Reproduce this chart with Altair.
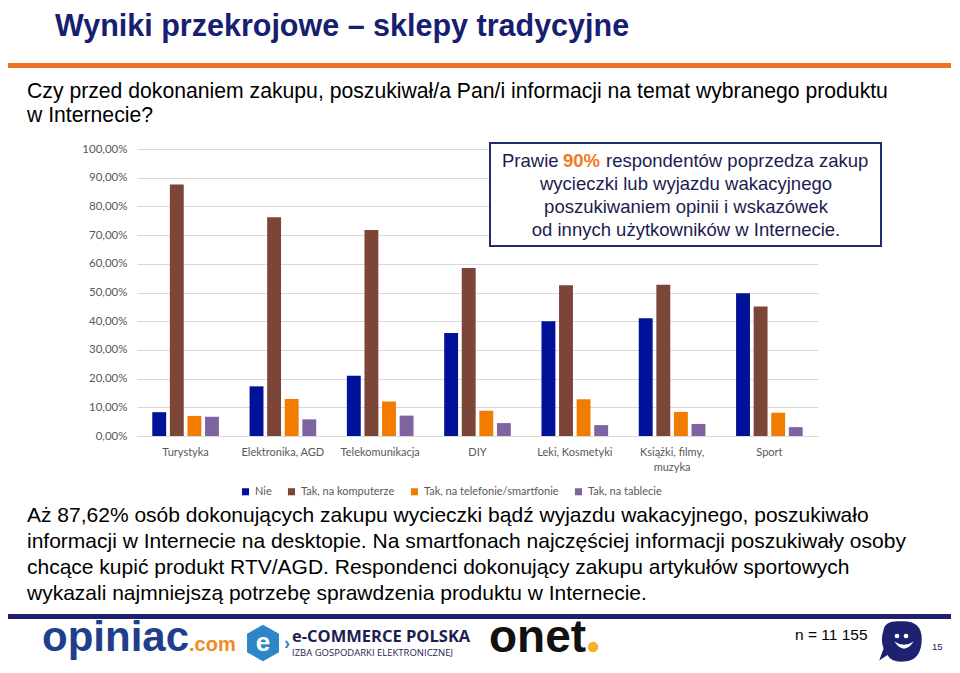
import altair as alt
import pandas as pd

# ---------------- data ----------------
categories = ["Turystyka", "Elektronika, AGD", "Telekomunikacja", "DIY",
              "Leki, Kosmetyki", "Książki, filmy, muzyka", "Sport"]
series = ["Nie", "Tak, na komputerze", "Tak, na telefonie/smartfonie", "Tak, na tablecie"]
nie = [8.3, 17.3, 21.0, 35.9, 40.0, 41.0, 49.7]
komputer = [87.62, 76.2, 71.8, 58.5, 52.5, 52.7, 45.1]
telefon = [7.0, 12.9, 12.0, 8.8, 12.8, 8.4, 8.1]
tablet = [6.7, 5.8, 7.1, 4.5, 3.8, 4.2, 3.1]
colors = ["#00129A", "#7B4537", "#F27C00", "#8064A2"]
y_ticks = [0, 10, 20, 30, 40, 50, 60, 70, 80, 90, 100]

title_text = "Wyniki przekrojowe – sklepy tradycyjne"
question_lines = ["Czy przed dokonaniem zakupu, poszukiwał/a Pan/i informacji na temat wybranego produktu",
                  "w Internecie?"]
box_lines = ["wycieczki lub wyjazdu wakacyjnego",
             "poszukiwaniem opinii i wskazówek",
             "od innych użytkowników w Internecie."]
bottom_lines = ["Aż 87,62% osób dokonujących zakupu wycieczki bądź wyjazdu wakacyjnego, poszukiwało",
                "informacji w Internecie na desktopie. Na smartfonach najczęściej informacji poszukiwały osoby",
                "chcące kupić produkt RTV/AGD. Respondenci dokonujący zakupu artykułów sportowych",
                "wykazali najmniejszą potrzebę sprawdzenia produktu w Internecie."]

rows = []
for vals, s in zip([nie, komputer, telefon, tablet], series):
    for c, v in zip(categories, vals):
        rows.append({"kategoria": c, "seria": s, "wartosc": v})
df = pd.DataFrame(rows)

W, H = 681, 287
ARIAL = "Liberation Sans"
CAL = "Lato"
GRAY = "#595959"

bars = alt.Chart(df).mark_bar().encode(
    x=alt.X("kategoria:N", sort=categories,
            scale=alt.Scale(paddingInner=0.315, paddingOuter=0.157),
            axis=alt.Axis(title=None, labelAngle=0, ticks=False, domain=True,
                          domainColor="#D9D9D9", labelFont=CAL, labelFontSize=11,
                          labelColor=GRAY, labelPadding=10, labelBaseline="top",
                          labelLineHeight=15,
                          labelExpr="datum.value == 'Książki, filmy, muzyka' ? ['Książki, filmy,', 'muzyka'] : datum.label")),
    xOffset=alt.XOffset("seria:N", sort=series,
                        scale=alt.Scale(paddingInner=0.21, paddingOuter=0)),
    y=alt.Y("wartosc:Q", scale=alt.Scale(domain=[0, 100], nice=False),
            axis=alt.Axis(title=None, values=y_ticks, domain=False, ticks=False,
                          gridColor="#D9D9D9", gridWidth=1, labelFont=CAL,
                          labelFontSize=11.5, labelColor=GRAY, labelPadding=10,
                          labelExpr="replace(format(datum.value, '.2f'), '.', ',') + '%'")),
    color=alt.Color("seria:N", sort=series,
                    scale=alt.Scale(domain=series, range=colors),
                    legend=alt.Legend(title=None, orient="none", legendX=103, legendY=337,
                                      direction="horizontal", symbolType="square",
                                      symbolSize=50, symbolStrokeWidth=0,
                                      labelFont=CAL, labelFontSize=11, labelColor=GRAY,
                                      columnPadding=14, labelOffset=4)),
)

one = alt.Data(values=[{"a": 1}])


def txt(s, x, y, size, color="#000000", weight="normal", align="left",
        font=ARIAL, baseline="alphabetic"):
    return alt.Chart(one).mark_text(
        text=s, fontSize=size, color=color, fontWeight=weight, align=align,
        font=font, baseline=baseline, clip=False
    ).encode(x=alt.value(x), y=alt.value(y))


def px(xp):  # page x -> plot x
    return xp - 137


def py(yp):  # page y -> plot y
    return yp - 149


layers = [bars]

# title + orange rule
layers.append(txt(title_text, px(55), py(35.5), 30.5, "#172070", "bold"))
layers.append(alt.Chart(one).mark_rule(color="#F07025", strokeWidth=5).encode(
    x=alt.value(px(8)), x2=alt.value(px(952)), y=alt.value(py(65.5))))
# question
layers.append(txt(question_lines[0], px(27), py(98), 21.2))
layers.append(txt(question_lines[1], px(27), py(122), 21.2))

# annotation box
layers.append(alt.Chart(one).mark_rect(fill="white", stroke="#1F2D6E", strokeWidth=2).encode(
    x=alt.value(px(490)), x2=alt.value(px(881)), y=alt.value(py(143)), y2=alt.value(py(246))))
BOX = "#1C1C50"
layers.append(txt("Prawie", px(502), py(167), 18.5, BOX))
layers.append(txt("90%", px(563), py(167), 18.5, "#F07A22", "bold"))
layers.append(txt("respondentów poprzedza zakup", px(606), py(167), 18.5, BOX))
for i, line in enumerate(box_lines):
    layers.append(txt(line, px(686), py(190 + 23 * i), 18.5, BOX, align="center"))

# bottom text
for i, line in enumerate(bottom_lines):
    layers.append(txt(line, px(27), py(522 + 26 * i), 21))

# navy rule
layers.append(alt.Chart(one).mark_rule(color="#1F1F6E", strokeWidth=5).encode(
    x=alt.value(px(8)), x2=alt.value(px(952)), y=alt.value(py(616.5))))

# logos (approximations)
layers.append(txt("opiniac", px(42), py(651), 42, "#1F3E8C", "bold"))
layers.append(txt(".com", px(189), py(651), 20, "#F08A24", "bold"))
hexagon = "M 0 -1 L 0.87 -0.5 L 0.87 0.5 L 0 1 L -0.87 0.5 L -0.87 -0.5 Z"
layers.append(alt.Chart(one).mark_point(shape=hexagon, filled=True, fill="#2E86C9",
                                        opacity=1, size=1350, strokeWidth=0).encode(
    x=alt.value(px(263)), y=alt.value(py(643))))
layers.append(txt("e", px(263), py(651), 26, "white", "bold", align="center"))
layers.append(txt("›", px(287), py(649), 18, "#2E86C9", "bold", align="center"))
layers.append(txt("e-COMMERCE POLSKA", px(292), py(642), 16.5, "#1E1E50", "bold", font="Open Sans"))
layers.append(txt("IZBA GOSPODARKI ELEKTRONICZNEJ", px(292), py(656), 9.5, "#1E1E50", font="Open Sans"))
layers.append(txt("onet", px(489), py(652), 46, "#111111", "bold"))
layers.append(alt.Chart(one).mark_point(shape="circle", filled=True, fill="#F6B22A",
                                        opacity=1, size=110, strokeWidth=0).encode(
    x=alt.value(px(593)), y=alt.value(py(647))))
layers.append(txt("n = 11 155", px(795), py(640), 15.5))
bubble = ("M -0.8 -0.55 Q -0.75 -1 0 -0.95 Q 0.95 -1 0.95 -0.15 Q 0.95 0.85 0.15 0.9 "
          "Q -0.45 0.95 -0.62 0.6 L -1 0.85 L -0.8 0.3 Q -0.95 -0.1 -0.8 -0.55 Z")
layers.append(alt.Chart(one).mark_point(shape=bubble, filled=True, fill="#1E2070",
                                        opacity=1, size=1900, strokeWidth=0).encode(
    x=alt.value(px(901)), y=alt.value(py(642))))
layers.append(alt.Chart(one).mark_point(shape="circle", filled=True, fill="white",
                                        opacity=1, size=22, strokeWidth=0).encode(
    x=alt.value(px(897)), y=alt.value(py(636))))
layers.append(alt.Chart(one).mark_point(shape="circle", filled=True, fill="white",
                                        opacity=1, size=22, strokeWidth=0).encode(
    x=alt.value(px(906)), y=alt.value(py(636))))
smile = "M -1 -0.35 Q 0 1.1 1 -0.35 Q 0 0.3 -1 -0.35 Z"
layers.append(alt.Chart(one).mark_point(shape=smile, filled=True, fill="white",
                                        opacity=1, size=380, strokeWidth=0).encode(
    x=alt.value(px(904)), y=alt.value(py(645))))
layers.append(txt("15", px(932), py(650), 9.5, "#1E2070"))

chart = alt.layer(*layers).properties(
    width=W, height=H,
    autosize=alt.AutoSizeParams(type="none"),
    padding={"left": 129, "top": 141, "right": 133, "bottom": 226},
).configure_view(stroke=None)

chart.save("out.html", embed_options={"renderer": "svg", "actions": False})
